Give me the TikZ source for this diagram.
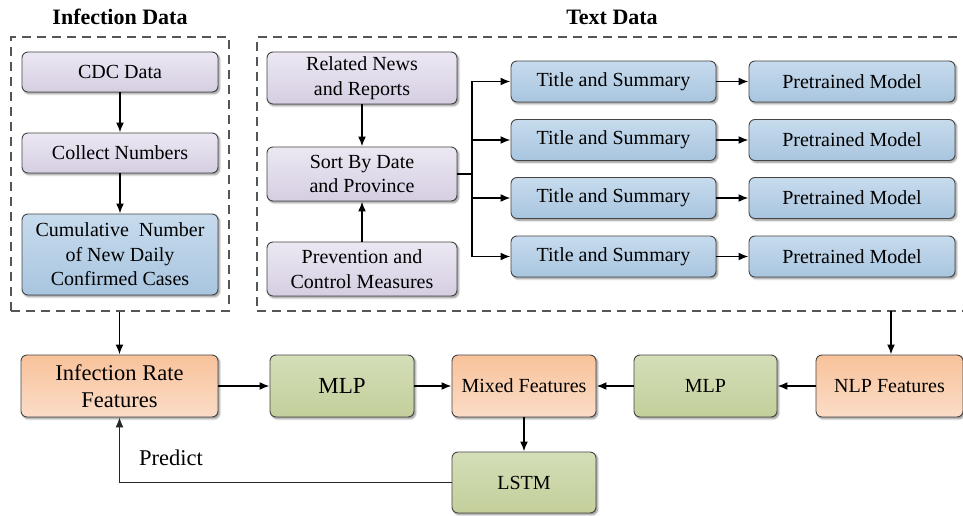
\documentclass[tikz,border=0pt]{standalone}
\usepackage{fontspec}
\setmainfont{Liberation Serif}
\usetikzlibrary{arrows.meta,shadows,shadows.blur}
\definecolor{pTop}{HTML}{ECE8F2}
\definecolor{pBot}{HTML}{D5CEE2}
\definecolor{bTop}{HTML}{C7DBED}
\definecolor{bBot}{HTML}{A8C5DF}
\definecolor{oTop}{HTML}{F8C29A}
\definecolor{oBot}{HTML}{FBDCC7}
\definecolor{gTop}{HTML}{D4DEB8}
\definecolor{gBot}{HTML}{C3CF9B}
\definecolor{edge}{HTML}{454545}
\definecolor{dashc}{HTML}{555555}
\tikzset{
  base/.style={draw=edge, line width=0.9pt, rounded corners=6pt, align=center, inner sep=0pt,
    blur shadow={shadow xshift=1.6pt, shadow yshift=-1.8pt, shadow blur steps=6, shadow opacity=45},
    font=\fontsize{20}{24.5}\selectfont},
  purp/.style={base, top color=pTop, bottom color=pBot},
  blu/.style={base, top color=bTop, bottom color=bBot},
  ora/.style={base, top color=oTop, bottom color=oBot},
  gre/.style={base, top color=gTop, bottom color=gBot},
  dbox/.style={draw=dashc, line width=1.3pt, dash pattern=on 9pt off 6pt, inner sep=0pt},
  arr/.style={line width=1.8pt, -{Latex[length=10pt,width=8pt]}},
  ln/.style={line width=1.8pt},
  parr/.style={line width=1.1pt, draw=black!85, -{Latex[length=10pt,width=8pt]}},
  ttl/.style={font=\fontsize{22}{26}\selectfont\bfseries},
}
\begin{document}
\begin{tikzpicture}[x=1pt,y=-1pt]
\useasboundingbox (0,0) rectangle (963,516);
\clip (0,0) rectangle (963,516);
% titles
\node[ttl] (t1) at (120,17) {Infection Data};
\node[ttl] (t2) at (612,17) {Text Data};
% dashed boxes
\node[dbox, minimum width=218pt, minimum height=274pt] (lbox) at (120,174) {};
\node[dbox, minimum width=723pt, minimum height=274pt] (rbox) at (618.5,174) {};
% left column
\node[purp, minimum width=196pt, minimum height=40pt] (cdc) at (120,72) {CDC Data};
\node[purp, minimum width=196pt, minimum height=40pt] (col) at (120,153) {Collect Numbers};
\node[blu, minimum width=196pt, minimum height=81pt] (cum) at (120,254.5) {Cumulative\ \ Number\\of New Daily\\Confirmed Cases};
% text column
\node[purp, minimum width=190pt, minimum height=52pt] (news) at (362,78) {Related News\\and Reports};
\node[purp, minimum width=190pt, minimum height=54pt] (sort) at (362,174) {Sort By Date\\and Province};
\node[purp, minimum width=190pt, minimum height=54pt] (prev) at (362,269) {Prevention and\\Control Measures};
\foreach \i/\y in {1/81.5,2/140,3/198,4/256.5}{
  \node[blu, minimum width=205pt, minimum height=41pt] (ts\i) at (613.5,\y) {Title and Summary};
  \node[blu, minimum width=206pt, minimum height=41pt] (pm\i) at (852,\y) {Pretrained Model};
}
% bottom row
\node[ora, minimum width=197pt, minimum height=62pt, font=\fontsize{22.5}{27}\selectfont] (irf) at (119.5,386) {Infection Rate\\Features};
\node[gre, minimum width=144pt, minimum height=62pt, font=\fontsize{23}{27}\selectfont] (mlp1) at (342,386) {MLP};
\node[ora, minimum width=144pt, minimum height=62pt] (mix) at (524,386) {Mixed Features};
\node[gre, minimum width=143pt, minimum height=62pt] (mlp2) at (705.5,386) {MLP};
\node[ora, minimum width=147pt, minimum height=62pt] (nlp) at (889.5,386) {NLP Features};
\node[gre, minimum width=144pt, minimum height=61pt] (lstm) at (524,482.5) {LSTM};
\node[font=\fontsize{22.5}{27}\selectfont] (pred) at (171,458) {Predict};
% connectors
\draw[arr] (cdc) -- (col);
\draw[arr] (col) -- (cum);
\draw[arr] (news) -- (sort);
\draw[arr] (prev) -- (sort);
\coordinate (jn) at (472,174);
\draw[ln] (sort.east) -- (jn);
\draw[ln] (jn |- ts1.west) -- (jn |- ts4.west);
\foreach \i in {1,...,4}{
  \draw[arr] (jn |- ts\i.west) -- (ts\i.west);
  \draw[arr] (ts\i.east) -- (pm\i.west);
}
\draw[arr] (lbox.south -| irf.north) -- (irf.north);
\coordinate (rb) at (891,311);
\draw[arr] (rb) -- (rb |- nlp.north);
\draw[arr] (irf.east) -- (mlp1.west);
\draw[arr] (mlp1.east) -- (mix.west);
\draw[arr] (nlp.west) -- (mlp2.east);
\draw[arr] (mlp2.west) -- (mix.east);
\draw[arr] (mix.south) -- (lstm.north);
\draw[parr] (lstm.west) -| (irf.south);
\end{tikzpicture}
\end{document}
